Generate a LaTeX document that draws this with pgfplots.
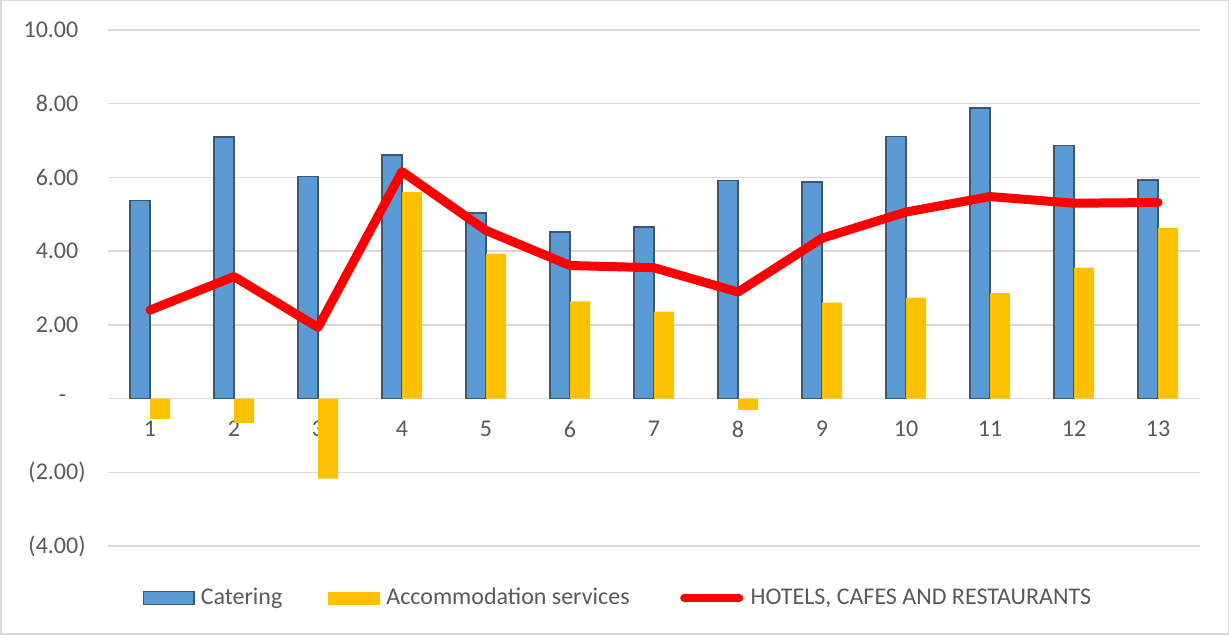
\documentclass[border=0pt]{standalone}
\usepackage{pgfplots}
\pgfplotsset{compat=1.18}
\usepackage{fontspec}
\setmainfont{Carlito}
\definecolor{catblue}{RGB}{91,155,213}
\definecolor{catedge}{RGB}{65,85,112}
\definecolor{accgold}{RGB}{255,192,0}
\definecolor{hcrred}{RGB}{255,0,0}
\definecolor{gridgray}{RGB}{217,217,217}
\definecolor{labgray}{RGB}{89,89,89}
\begin{document}
\begin{tikzpicture}
\draw[gridgray, line width=0.75pt] (0.375pt,0.375pt) rectangle (614.125pt,317.125pt);
\begin{axis}[
  at={(54pt,44.5pt)}, anchor=south west,
  scale only axis, width=546pt, height=258pt,
  xmin=0.5, xmax=13.5, ymin=-4, ymax=10,
  axis line style={draw=none}, tick style={draw=none},
  ytick={-4,-2,0,2,4,6,8,10},
  yticklabels={(4.00),(2.00),{-\hphantom{0)}},2.00\hphantom{)},4.00\hphantom{)},6.00\hphantom{)},8.00\hphantom{)},10.00\hphantom{)}},
  ymajorgrids, grid style={gridgray, line width=0.75pt},
  xtick={1,2,3,4,5,6,7,8,9,10,11,12,13},
  xticklabels={1,2,3,4,5,6,7,8,9,10,11,12,13},
  ticklabel style={font=\fontsize{12}{14}\selectfont, text=labgray},
  yticklabel style={anchor=east, inner sep=0pt, xshift=-11pt},
  xticklabel style={anchor=north, inner sep=0pt, yshift=62.5pt},
  legend style={at={(0.4661,-0.1008)}, anchor=center, draw=none, fill=none,
    legend columns=3, font=\fontsize{12}{14}\selectfont, text=labgray,
    nodes={inner xsep=0pt},
    /tikz/every even column/.append style={column sep=23pt},
    /tikz/every odd column/.append style={column sep=3pt}},
  clip=false,
]
\addplot[ybar, bar width=10pt, bar shift=-5pt, fill=catblue, draw=catedge, line width=0.8pt,
  legend image code/.code={\draw[fill=catblue, draw=catedge, line width=0.8pt] (0.4pt,-3.25pt) rectangle (25.6pt,3.25pt);}]
  coordinates {(1,5.37) (2,7.10) (3,6.03) (4,6.61) (5,5.03) (6,4.52) (7,4.65) (8,5.92) (9,5.88) (10,7.11) (11,7.89) (12,6.87) (13,5.93)};
\addlegendentry{Catering}
\addplot[ybar, bar width=10pt, bar shift=5pt, fill=accgold, draw=none,
  legend image code/.code={\fill[accgold] (0pt,-3.25pt) rectangle (26pt,3.25pt);}]
  coordinates {(1,-0.55) (2,-0.66) (3,-2.17) (4,5.61) (5,3.93) (6,2.64) (7,2.36) (8,-0.31) (9,2.60) (10,2.74) (11,2.86) (12,3.55) (13,4.63)};
\addlegendentry{Accommodation services}
\addplot[sharp plot, hcrred, line width=4.5pt, line join=round, line cap=round, mark=none,
  legend image code/.code={\path (0pt,0pt) (30pt,0pt); \draw[hcrred, line width=4pt, line cap=round] (2pt,0pt) -- (29.5pt,0pt);}]
  coordinates {(1,2.40) (2,3.31) (3,1.93) (4,6.16) (5,4.56) (6,3.61) (7,3.55) (8,2.89) (9,4.35) (10,5.06) (11,5.48) (12,5.30) (13,5.32)};
\addlegendentry{HOTELS, CAFES AND RESTAURANTS}
\end{axis}
\end{tikzpicture}
\end{document}
